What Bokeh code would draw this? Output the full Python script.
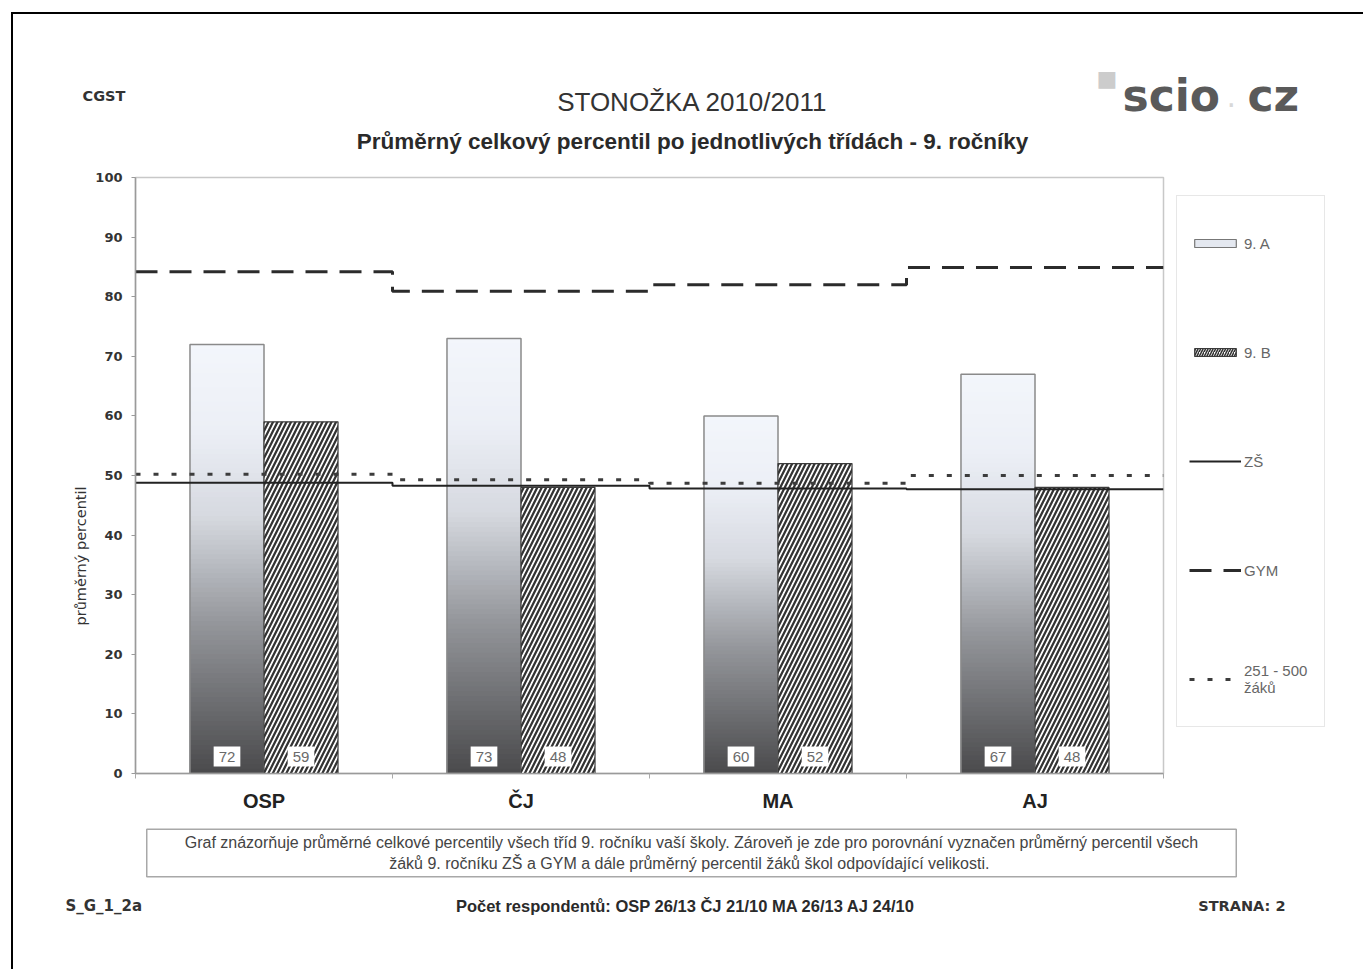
import math
from bokeh.plotting import figure
from bokeh.layouts import column, row
from bokeh.models import (Label, Legend, LegendItem, FixedTicker, Range1d)
from bokeh.core.properties import value
from bokeh.embed import file_html
from bokeh.resources import INLINE

# ---------------- data ----------------
categories = ["OSP", "ČJ", "MA", "AJ"]
class_9a = [72, 73, 60, 67]
class_9b = [59, 48, 52, 48]
zs_avg = [48.8, 48.3, 47.8, 47.7]
gym_avg = [84.2, 80.9, 82.0, 84.9]
size_avg = [50.2, 49.3, 48.7, 50.0]
y_ticks = [0, 10, 20, 30, 40, 50, 60, 70, 80, 90, 100]
respondents = ["OSP 26/13", "ČJ 21/10", "MA 26/13", "AJ 24/10"]
series_names = ["9. A", "9. B", "ZŠ", "GYM", "251 - 500\nžáků"]

# ---------------- page geometry (window pixels) ----------------
OX, OY = 13, 14            # canvas origin in the window
W = 1350
HEAD_B = 160               # header bottom
MAIN_B = 820               # main row bottom
PAGE_B = 969               # footer bottom
LEFT_R = 90                # left strip right edge
FL, FT, FR, FB = 135, 177, 1163, 773   # plot frame
MAIN_R = FR + 5            # main figure right edge

# styles
A_FILL, A_LINE = "#e4e8f0", "#8a8a8a"
B_HATCH, B_LINE = "#333333", "#3a3a3a"
ZS_COLOR, GYM_COLOR, SIZE_COLOR = "#222222", "#2b2b2b", "#3c3c3c"
GYM_DASH, SIZE_DASH = "22 12", "5 13"


def blank(width, height):
    f = figure(width=width, height=height, x_range=Range1d(0, 1), y_range=Range1d(0, 1),
               output_backend="svg", toolbar_location=None,
               x_axis_location=None, y_axis_location=None, min_border=0)
    f.outline_line_color = None
    f.grid.visible = False
    f.background_fill_color = "white"
    f.border_fill_color = "white"
    return f


def put(fig, origin, text, X, Y, size, font="Liberation Sans", style="normal",
        color="#333333", align="left", baseline="middle", **kw):
    ox, ob = origin
    fig.add_layout(Label(x=X - ox, y=ob - Y, x_units="screen", y_units="screen", text=text,
                         text_font=font, text_font_size=f"{size}px", text_font_style=style,
                         text_color=color, text_align=align, text_baseline=baseline, **kw))


# ---------------- header ----------------
head = blank(W, HEAD_B - OY)
ho = (OX, HEAD_B)
put(head, ho, "CGST", 82, 95, 14.5, font="DejaVu Sans", style="bold")
put(head, ho, "STONOŽKA 2010/2011", 692, 101, 26, align="center")
put(head, ho, "Průměrný celkový percentil po jednotlivých třídách - 9. ročníky", 692, 141, 22.5,
    style="bold", color="#2a2a2a", align="center")
put(head, ho, "\u25A0", 1096, 78, 22, font="DejaVu Sans", color="#cccccc")
put(head, ho, "scio", 1122, 95, 44, font="DejaVu Sans", style="bold", color="#5a5a5a",
    baseline="alphabetic")
put(head, ho, ".", 1226, 95, 30, font="DejaVu Sans", color="#d8d8d8", baseline="alphabetic")
put(head, ho, "cz", 1247, 95, 44, font="DejaVu Sans", style="bold", color="#5a5a5a",
    baseline="alphabetic")

# ---------------- left strip (axis title); its frame is aligned with the chart frame ----------------
left = blank(LEFT_R - OX, MAIN_B - HEAD_B)
put(left, (OX, FB), "průměrný percentil", 80, 625, 14.5, font="DejaVu Sans",
    align="left", angle=math.pi / 2)

# ---------------- main chart ----------------
p = figure(width=MAIN_R - LEFT_R, height=MAIN_B - HEAD_B,
           x_range=Range1d(0, 4), y_range=Range1d(0, 100),
           output_backend="svg", toolbar_location=None,
           min_border_left=FL - LEFT_R, min_border_right=MAIN_R - FR,
           min_border_top=FT - HEAD_B, min_border_bottom=MAIN_B - FB)
p.background_fill_color = "white"
p.border_fill_color = "white"
p.outline_line_color = "#c8c8c8"
p.outline_line_width = 1.5
p.grid.visible = False

ya = p.yaxis[0]
ya.ticker = FixedTicker(ticks=y_ticks, minor_ticks=[])
ya.axis_line_color = "#9a9a9a"
ya.axis_line_width = 1.5
ya.major_tick_line_color = "#9a9a9a"
ya.major_tick_out = 4
ya.major_tick_in = 0
ya.major_label_standoff = 9
ya.major_label_text_font = "DejaVu Sans"
ya.major_label_text_font_size = "13px"
ya.major_label_text_font_style = "bold"
ya.major_label_text_color = "#333333"

centers = [i + 0.5 for i in range(len(categories))]
xa = p.xaxis[0]
xa.ticker = FixedTicker(ticks=centers, minor_ticks=list(range(len(categories) + 1)))
xa.major_label_overrides = {c: name for c, name in zip(centers, categories)}
xa.axis_line_color = "#9a9a9a"
xa.axis_line_width = 1.5
xa.major_tick_line_color = None
xa.minor_tick_line_color = "#aaaaaa"
xa.minor_tick_out = 5
xa.minor_tick_in = 0
xa.major_label_standoff = 10
xa.major_label_text_font = "Liberation Sans"
xa.major_label_text_font_size = "20px"
xa.major_label_text_font_style = "bold"
xa.major_label_text_color = "#222222"

BW = 0.288


def lerp_color(t):
    stops = [(0.0, (74, 74, 76)), (0.35, (148, 150, 155)), (0.6, (214, 217, 224)),
             (0.8, (236, 239, 246)), (1.0, (243, 246, 251))]
    for (t0, c0), (t1, c1) in zip(stops[:-1], stops[1:]):
        if t <= t1:
            f = (t - t0) / (t1 - t0)
            return "#%02x%02x%02x" % tuple(int(round(a + (b - a) * f)) for a, b in zip(c0, c1))
    return "#%02x%02x%02x" % stops[-1][1]


# gradient bars: nested quads from the full bar down to the bottom, lightest first
N = 90
gl, gr, gt, gc = [], [], [], []
for k in range(N, 0, -1):
    for c, v in zip(centers, class_9a):
        gl.append(c - BW); gr.append(c)
        gt.append(v * k / N)
        gc.append(lerp_color((k - 0.5) / N))
p.quad(left=gl, right=gr, bottom=0, top=gt, fill_color=gc, line_color=None)
p.quad(left=[c - BW for c in centers], right=centers, bottom=0, top=class_9a,
       fill_color=None, line_color=A_LINE, line_width=1.5)

p.quad(left=centers, right=[c + BW for c in centers], bottom=0, top=class_9b,
       fill_color="white", hatch_pattern="/", hatch_color=B_HATCH,
       hatch_weight=2.3, hatch_scale=9, line_color=B_LINE, line_width=1.2)

p.text(x=[c - BW / 2 for c in centers] + [c + BW / 2 for c in centers],
       y=[2.85] * 8, text=[str(v) for v in class_9a] + [str(v) for v in class_9b],
       text_align="center", text_baseline="middle", text_font_size="15px",
       text_font=value("Liberation Sans"), text_color="#6a6a6a",
       background_fill_color="white", padding=5)

xs = list(range(len(categories) + 1))
p.step(x=xs, y=gym_avg + gym_avg[-1:], mode="after", line_dash=GYM_DASH,
       line_width=3, line_color=GYM_COLOR)
p.step(x=xs, y=size_avg + size_avg[-1:], mode="after", line_dash=SIZE_DASH,
       line_width=3, line_color=SIZE_COLOR)
p.step(x=xs, y=zs_avg + zs_avg[-1:], mode="after", line_width=2, line_color=ZS_COLOR)

# ---------------- legend strip (frame aligned with chart frame) ----------------
rf = blank(OX + W - MAIN_R, MAIN_B - HEAD_B)
off = [-5, -4]   # proxies kept outside the visible range; they only feed the legend
l9a = rf.quad(left=[-5], right=[-4], bottom=[-5], top=[-4], fill_color=A_FILL,
              line_color="#777777", line_width=1.2)
l9b = rf.quad(left=[-5], right=[-4], bottom=[-5], top=[-4], fill_color="white",
              hatch_pattern="/", hatch_color=B_HATCH, hatch_weight=1.6, hatch_scale=5,
              line_color=B_LINE, line_width=1.2)
lzs = rf.line(x=off, y=off, line_width=2, line_color=ZS_COLOR)
lgym = rf.line(x=off, y=off, line_width=3, line_color=GYM_COLOR, line_dash=GYM_DASH)
lsize = rf.line(x=off, y=off, line_width=3, line_color=SIZE_COLOR, line_dash=SIZE_DASH)

legend = Legend(items=[LegendItem(label=series_names[0], renderers=[l9a]),
                       LegendItem(label=series_names[1], renderers=[l9b]),
                       LegendItem(label=series_names[2], renderers=[lzs]),
                       LegendItem(label=series_names[3], renderers=[lgym]),
                       LegendItem(label=series_names[4], renderers=[lsize])],
                location=(1176 - MAIN_R, FB - 727))
legend.border_line_color = "#cfcfcf"
legend.border_line_width = 1.5
legend.background_fill_color = "white"
legend.background_fill_alpha = 1
legend.label_text_font = "Liberation Sans"
legend.label_text_font_size = "15px"
legend.label_text_color = "#666666"
legend.glyph_width = 52
legend.glyph_height = 10
legend.label_standoff = 3
legend.label_width = 68
legend.label_height = 70
legend.spacing = 39
legend.padding = 12
legend.margin = 0
rf.add_layout(legend)

# ---------------- footer ----------------
foot = blank(W, PAGE_B - MAIN_B)
fo = (OX, PAGE_B)
put(foot, fo,
    "Graf znázorňuje průměrné celkové percentily všech tříd 9. ročníku vaší školy. Zároveň je zde pro porovnání vyznačen průměrný percentil všech\n"
    "žáků  9. ročníku ZŠ a GYM a dále průměrný percentil žáků škol odpovídající velikosti.",
    691, 852.5, 16, color="#444444", align="center",
    border_line_color="#a8a8a8", border_line_width=1.5, background_fill_color="white",
    padding=(38, 38, 5, 5))
put(foot, fo, "S_G_1_2a", 65, 905, 15, font="DejaVu Sans", style="bold")
put(foot, fo, "Počet respondentů: " + "  ".join(respondents), 692, 905, 16.5, style="bold",
    color="#2a2a2a", align="center")
put(foot, fo, "STRANA: 2", 1285, 905, 14.5, font="DejaVu Sans", style="bold", align="right")

layout = column(head, row(left, p, rf), foot,
                styles={"position": "relative", "left": "11px", "top": "12px",
                        "border-top": "2px solid #000", "border-left": "2px solid #000"})

open("out.html", "w").write(file_html(layout, INLINE))
